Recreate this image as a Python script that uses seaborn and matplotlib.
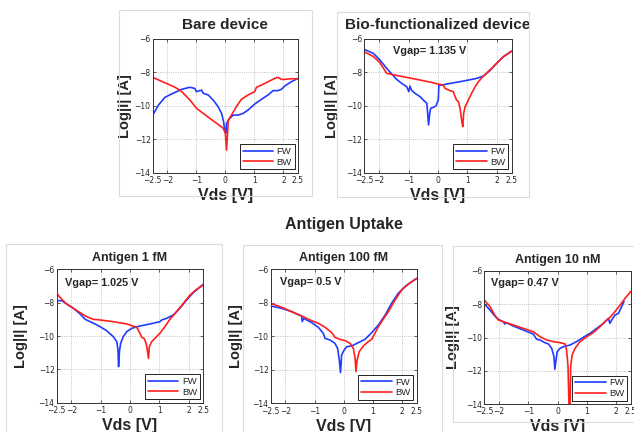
import matplotlib
matplotlib.use("Agg")
import matplotlib.pyplot as plt
import seaborn as sns
import pandas as pd
from matplotlib.patches import Rectangle

# ---------------- data (Vds [V], log|I| [A]) ----------------
bare_fw_v = [-2.5, -2.3, -2.08, -1.85, -1.5, -1.22, -1.05, -1.0, -0.82, -0.76, -0.59, -0.42, -0.25, -0.13, -0.06, -0.02,
             0.02, 0.04, 0.15, 0.27, 0.44, 0.61, 0.78, 1.01, 1.24, 1.47, 1.64, 1.81, 1.93, 2.04, 2.27, 2.5]
bare_fw_i = [-10.56, -9.96, -9.5, -9.3, -9.02, -8.9, -8.97, -9.16, -9.07, -9.26, -9.36, -9.66, -10.06, -10.46, -10.96, -11.55,
             -11.65, -11.05, -10.76, -10.56, -10.56, -10.46, -10.26, -9.9, -9.62, -9.36, -9.1, -9.1, -9.02, -8.83, -8.57, -8.37]
bare_bw_v = [-2.5, -2.08, -1.73, -1.5, -1.22, -0.99, -0.76, -0.53, -0.30, -0.07, 0.0, 0.04, 0.07, 0.1, 0.21, 0.38, 0.55,
             0.78, 1.01, 1.07, 1.24, 1.47, 1.7, 1.81, 1.93, 2.04, 2.27, 2.5]
bare_bw_i = [-8.31, -8.63, -8.9, -9.16, -9.66, -10.16, -10.46, -10.76, -11.05, -11.35, -11.65, -12.65, -11.85, -10.86,
             -10.56, -10.06, -9.62, -9.36, -9.16, -8.9, -8.77, -8.57, -8.37, -8.31, -8.43, -8.43, -8.39, -8.39]

bio_fw_v = [-2.5, -2.19, -1.97, -1.74, -1.57, -1.4, -1.23, -1.06, -0.99, -0.95, -0.9, -0.78, -0.61, -0.5, -0.38, -0.35,
            -0.32, -0.28, -0.25, -0.16, -0.07, 0.01, 0.03, 0.12, 0.41, 0.86, 1.31, 1.54, 1.76, 1.99, 2.22, 2.5]
bio_fw_i = [-6.64, -6.88, -7.27, -7.77, -8.11, -8.43, -8.67, -8.87, -9.16, -8.83, -9.07, -9.26, -9.46, -9.66, -9.86, -10.46,
            -11.15, -10.46, -10.16, -10.1, -10.02, -9.66, -8.77, -8.77, -8.67, -8.53, -8.37, -8.23, -7.91, -7.47, -7.07, -6.74]
bio_bw_v = [-2.5, -2.19, -1.97, -1.74, -1.63, -1.18, -0.72, -0.27, 0.07, 0.18, 0.24, 0.41, 0.52, 0.58, 0.63, 0.69, 0.75,
            0.80, 0.84, 0.87, 0.92, 1.03, 1.14, 1.26, 1.37, 1.54, 1.76, 1.99, 2.22, 2.5]
bio_bw_i = [-6.78, -7.07, -7.43, -8.07, -8.11, -8.27, -8.43, -8.59, -8.73, -8.77, -8.97, -9.1, -9.16, -9.46, -9.66, -9.76,
            -10.16, -10.86, -11.25, -10.46, -10.06, -9.66, -9.26, -8.87, -8.57, -8.23, -7.87, -7.47, -7.07, -6.74]

ag1_fw_v = [-2.5, -2.33, -2.16, -1.93, -1.7, -1.53, -1.36, -1.19, -1.02, -0.8, -0.57, -0.45, -0.41, -0.39, -0.36, -0.32,
            -0.23, -0.11, 0.06, 0.34, 0.68, 1.02, 1.08, 1.25, 1.48, 1.7, 1.93, 2.16, 2.5]
ag1_fw_i = [-7.88, -7.88, -8.08, -8.34, -8.68, -9.0, -9.14, -9.28, -9.44, -9.68, -10.04, -10.34, -10.84, -11.84, -10.94,
            -10.44, -10.04, -9.74, -9.54, -9.4, -9.28, -9.14, -9.04, -8.94, -8.74, -8.34, -7.84, -7.4, -6.9]
ag1_bw_v = [-2.5, -2.33, -2.16, -1.93, -1.7, -1.48, -1.25, -1.02, -0.57, -0.11, 0.23, 0.34, 0.4, 0.48, 0.55, 0.59, 0.63,
            0.66, 0.74, 0.85, 1.02, 1.19, 1.36, 1.59, 1.82, 2.05, 2.27, 2.5]
ag1_bw_i = [-7.44, -7.8, -8.08, -8.34, -8.6, -8.84, -9.0, -9.04, -9.14, -9.28, -9.48, -9.84, -10.08, -10.14, -10.44,
            -10.84, -11.34, -10.64, -10.34, -10.14, -9.84, -9.44, -9.0, -8.54, -8.04, -7.54, -7.2, -6.94]

ag100_fw_v = [-2.5, -2.12, -1.78, -1.44, -1.42, -1.37, -1.1, -0.87, -0.7, -0.64, -0.47, -0.3, -0.21, -0.15, -0.11, -0.07,
              0.0, 0.1, 0.27, 0.5, 0.73, 0.96, 1.19, 1.42, 1.64, 1.87, 2.1, 2.5]
ag100_fw_i = [-8.19, -8.33, -8.53, -8.79, -9.12, -8.93, -9.18, -9.46, -9.82, -10.12, -10.22, -10.42, -10.72, -11.41,
              -12.17, -11.12, -10.86, -10.62, -10.58, -10.38, -10.18, -9.78, -9.32, -8.73, -8.03, -7.43, -7.03, -6.54]
ag100_bw_v = [-2.5, -2.12, -1.78, -1.44, -1.1, -0.87, -0.64, -0.41, -0.3, -0.13, 0.05, 0.22, 0.33, 0.39, 0.42, 0.46,
              0.53, 0.67, 0.84, 0.96, 1.07, 1.19, 1.3, 1.53, 1.76, 1.99, 2.21, 2.5]
ag100_bw_i = [-8.03, -8.27, -8.53, -8.79, -9.07, -9.22, -9.46, -9.78, -10.06, -10.18, -10.26, -10.42, -10.72, -11.31,
              -12.11, -11.41, -10.92, -10.58, -10.32, -10.18, -9.82, -9.42, -9.12, -8.53, -7.83, -7.23, -6.88, -6.54]

ag10n_fw_v = [-2.5, -2.31, -2.14, -2.02, -1.85, -1.8, -1.74, -1.51, -1.17, -0.83, -0.71, -0.6, -0.43, -0.31, -0.2, -0.12,
              -0.09, -0.05, -0.01, 0.09, 0.2, 0.43, 0.65, 0.88, 1.11, 1.34, 1.57, 1.68, 1.74, 1.79, 1.85, 1.96, 2.08,
              2.19, 2.27]
ag10n_fw_i = [-7.98, -8.34, -8.71, -8.91, -9.05, -9.19, -9.11, -9.31, -9.55, -9.79, -10.11, -10.15, -10.31, -10.39,
              -10.65, -11.15, -11.91, -11.35, -10.85, -10.65, -10.55, -10.45, -10.25, -9.99, -9.75, -9.45, -9.15, -8.95,
              -8.85, -9.15, -8.95, -8.65, -8.55, -8.14, -7.84]
ag10n_bw_v = [-2.5, -2.31, -2.14, -2.02, -1.85, -1.51, -1.17, -0.83, -0.6, -0.37, -0.14, 0.09, 0.26, 0.31, 0.36, 0.39,
              0.43, 0.45, 0.5, 0.6, 0.77, 1.0, 1.22, 1.45, 1.62, 1.79, 1.96, 2.14, 2.31, 2.5]
ag10n_bw_i = [-7.74, -8.14, -8.65, -8.95, -9.05, -9.25, -9.45, -9.65, -9.95, -10.15, -10.25, -10.31, -10.39, -10.75,
              -11.75, -14.0, -14.0, -11.75, -11.05, -10.65, -10.25, -9.95, -9.71, -9.35, -9.05, -8.79, -8.45, -8.04,
              -7.64, -7.24]

panel_titles = ["Bare device", "Bio-functionalized device", "Antigen 1 fM", "Antigen 100 fM", "Antigen 10 nM"]
vgap_labels = [None, "Vgap= 1.135 V", "Vgap= 1.025 V", "Vgap= 0.5 V", "Vgap= 0.47 V"]
x_ticks = [-2.5, -2, -1, 0, 1, 2, 2.5]
x_ticklabels = ["\u22122.5", "\u22122", "\u22121", "0", "1", "2", "2.5"]
y_ticks = [-14, -12, -10, -8, -6]
y_ticklabels = ["\u221214", "\u221212", "\u221210", "\u22128", "\u22126"]
sweep_names = ["FW", "BW"]
section_title = "Antigen Uptake"

# ---------------- style ----------------
sns.set_style("white")
plt.rcParams["font.family"] = ["Liberation Sans", "DejaVu Sans"]

W, H = 634, 432
fig = plt.figure(figsize=(W / 100, H / 100), dpi=100)
fig.patch.set_facecolor("white")


def frect(x0, y0, x1, y1):
    return [x0 / W, 1 - y1 / H, (x1 - x0) / W, (y1 - y0) / H]


# light panel frames
for (x0, y0, x1, y1) in [(119, 10, 312, 196), (337, 12, 529, 197), (6, 244, 222, 440),
                         (243, 245, 442, 436), (453, 246, 640, 422)]:
    fig.add_artist(Rectangle((x0 / W, 1 - y1 / H), (x1 - x0) / W, (y1 - y0) / H,
                             transform=fig.transFigure, fill=False, edgecolor="#dcdcdc", lw=0.8))

panels = [
    dict(box=(152.7, 38.7, 298, 172.7), fw=(bare_fw_v, bare_fw_i), bw=(bare_bw_v, bare_bw_i),
         tsize=11, tpad=7, ylx=-0.145, vx=None),
    dict(box=(364.3, 38.7, 511.7, 172.7), fw=(bio_fw_v, bio_fw_i), bw=(bio_bw_v, bio_bw_i),
         tsize=11, tpad=7, ylx=-0.17, vx=(-1.52, -6.72)),
    dict(box=(56.7, 269.3, 203.3, 402.7), fw=(ag1_fw_v, ag1_fw_i), bw=(ag1_bw_v, ag1_bw_i),
         tsize=9, tpad=6, ylx=-0.194, vx=(-2.22, -6.8)),
    dict(box=(270.7, 269.3, 416.7, 403.3), fw=(ag100_fw_v, ag100_fw_i), bw=(ag100_bw_v, ag100_bw_i),
         tsize=9, tpad=6, ylx=-0.188, vx=(-2.18, -6.78)),
    dict(box=(484.3, 271, 630.7, 404), fw=(ag10n_fw_v, ag10n_fw_i), bw=(ag10n_bw_v, ag10n_bw_i),
         tsize=9, tpad=6, ylx=-0.165, vx=(-2.27, -6.7)),
]

palette = {"FW": "#1f3cff", "BW": "#ff1f1f"}

for k, p in enumerate(panels):
    ax = fig.add_axes(frect(*p["box"]))
    df = pd.concat([
        pd.DataFrame({"Vds": p["fw"][0], "logI": p["fw"][1], "sweep": sweep_names[0]}),
        pd.DataFrame({"Vds": p["bw"][0], "logI": p["bw"][1], "sweep": sweep_names[1]}),
    ], ignore_index=True)
    sns.lineplot(data=df, x="Vds", y="logI", hue="sweep", hue_order=sweep_names, palette=palette,
                 sort=False, estimator=None, ax=ax, linewidth=1.2)
    ax.set_xlim(-2.5, 2.5)
    ax.set_ylim(-14, -6)
    ax.set_xticks(x_ticks)
    ax.set_xticklabels(x_ticklabels, fontsize=5.5, family="DejaVu Sans")
    ax.set_yticks(y_ticks)
    ax.set_yticklabels(y_ticklabels, fontsize=5.5, family="DejaVu Sans")
    ax.tick_params(axis="x", direction="in", length=2.5, width=0.5, pad=2.5, top=True, bottom=True)
    ax.tick_params(axis="y", direction="in", length=2.5, width=0.5, pad=1.5, left=True, right=True)
    ax.grid(True, linestyle=":", color="#b0b0b0", linewidth=0.6)
    for s in ax.spines.values():
        s.set_edgecolor("#333333")
        s.set_linewidth(0.7)
    ax.set_title(panel_titles[k], fontsize=p["tsize"], fontweight="bold", pad=p["tpad"])
    ax.set_xlabel("Vds [V]", fontsize=11.5, fontweight="bold")
    ax.set_ylabel("Log|I| [A]", fontsize=10.5, fontweight="bold")
    ax.xaxis.set_label_coords(0.5, -0.115)
    ax.yaxis.set_label_coords(p["ylx"], 0.5)
    if vgap_labels[k] is not None:
        ax.text(p["vx"][0], p["vx"][1], vgap_labels[k], fontsize=7.8, fontweight="bold",
                ha="left", va="center")
    h, l = ax.get_legend_handles_labels()
    ax.legend(h, l, loc="lower right", fontsize=6.8, handlelength=3.2, handletextpad=0.4,
              labelspacing=0.15, borderpad=0.3, borderaxespad=0.35, fancybox=False,
              edgecolor="black", framealpha=1.0)
    ax.get_legend().get_frame().set_linewidth(0.6)

fig.text(344 / W, 1 - 224 / H, section_title, fontsize=11.5, fontweight="bold", ha="center", va="center")

fig.savefig("out.png", dpi=100, facecolor="white")
